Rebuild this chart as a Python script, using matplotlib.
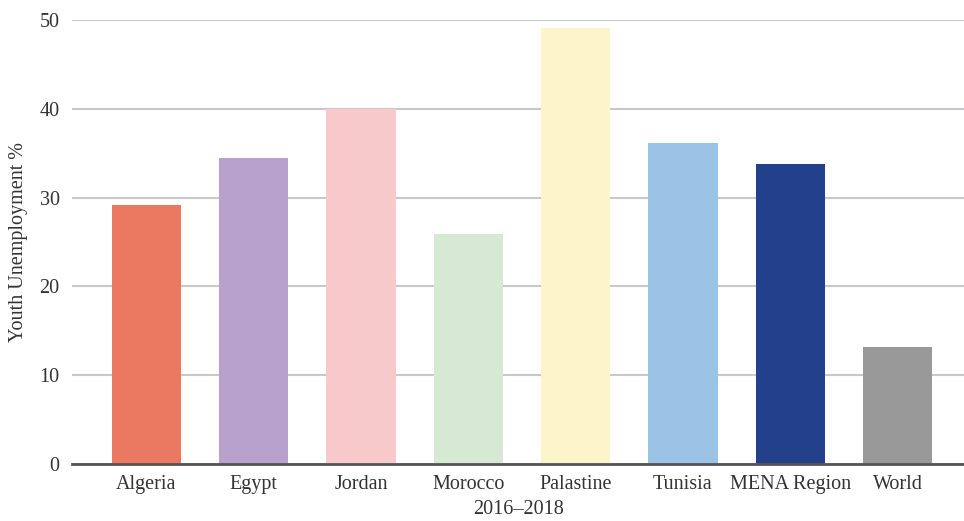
import matplotlib
matplotlib.use("Agg")
import matplotlib.pyplot as plt

categories = ["Algeria", "Egypt", "Jordan", "Morocco", "Palastine",
              "Tunisia", "MENA Region", "World"]
values = [29.2, 34.5, 40.0, 25.9, 49.1, 36.1, 33.8, 13.2]
colors = ["#EB7861", "#B8A1CD", "#F8C9CA", "#D6E9D2", "#FCF5C9",
          "#9BC3E6", "#23408A", "#999999"]
y_ticks = [0, 10, 20, 30, 40, 50]

plt.rcParams["font.family"] = ["Liberation Serif", "DejaVu Serif"]
text_color = "#333333"

fig = plt.figure(figsize=(9.64, 5.21), dpi=100)
ax = fig.add_axes([0.0747, 0.1094, 0.9253, 0.8522])

x = list(range(len(categories)))
ax.bar(x, values, width=0.645, color=colors, zorder=3)

ax.set_ylim(0, 50)
ax.set_xlim(-0.694, 7.62)
ax.set_yticks(y_ticks)
ax.set_xticks(x)
ax.set_xticklabels(categories)
ax.grid(axis="y", color="#C8C8CC", linewidth=1.5, zorder=0)
ax.grid(axis="x", visible=False)

for side in ["top", "right", "left"]:
    ax.spines[side].set_visible(False)
ax.spines["bottom"].set_color("#555555")
ax.spines["bottom"].set_linewidth(2)
ax.spines["bottom"].set_zorder(4)

ax.tick_params(axis="both", length=0, labelsize=14.5, colors=text_color)
ax.tick_params(axis="y", pad=9)
ax.tick_params(axis="x", pad=8)

ax.set_ylabel("Youth Unemployment %", fontsize=14.5, color=text_color,
              labelpad=8)
ax.set_xlabel("2016\u20132018", fontsize=14.5, color=text_color, labelpad=4)

fig.savefig("out.png", dpi=100)
